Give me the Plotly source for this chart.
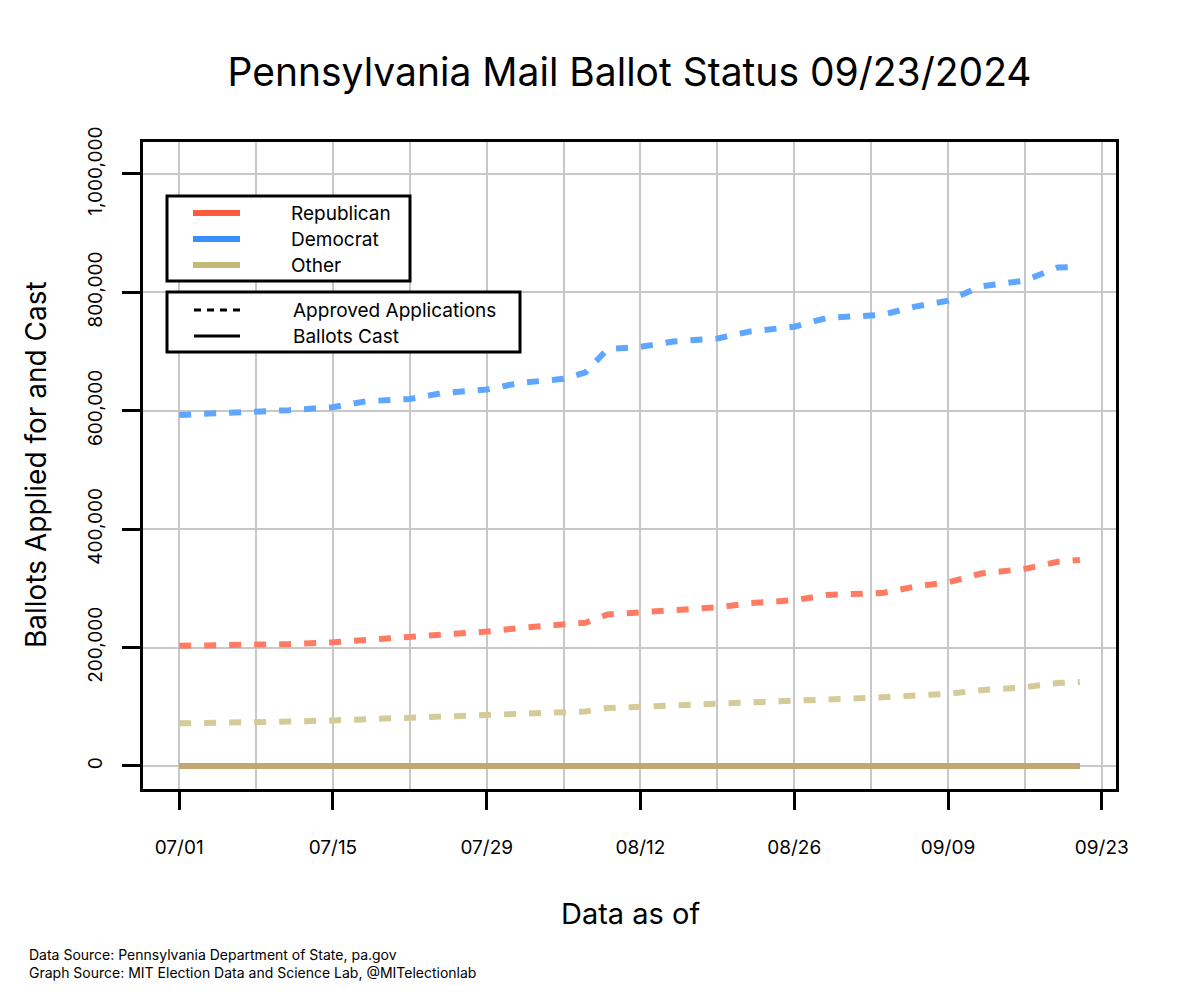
import plotly.graph_objects as go

# ---------------- data ----------------
dates = ["2024-07-01", "2024-07-04", "2024-07-08", "2024-07-11", "2024-07-15", "2024-07-18",
         "2024-07-22", "2024-07-25", "2024-07-29", "2024-08-01", "2024-08-05", "2024-08-07",
         "2024-08-09", "2024-08-12", "2024-08-15", "2024-08-19", "2024-08-22", "2024-08-26",
         "2024-08-29", "2024-09-03", "2024-09-06", "2024-09-09", "2024-09-12", "2024-09-16",
         "2024-09-19", "2024-09-21"]
dem_apps = [593000, 595000, 597000, 601000, 606000, 616000, 620000, 630000, 636000, 647000,
            654000, 665000, 704000, 708000, 717000, 722000, 734000, 742000, 757000, 762000,
            776000, 786000, 810000, 820000, 842000, 843000]
rep_apps = [203000, 203500, 204000, 206000, 209000, 213000, 216000, 222000, 227000, 233000,
            238000, 242000, 256000, 259000, 264000, 268000, 275000, 280000, 289000, 292000,
            303000, 310000, 325000, 333000, 345000, 348000]
oth_apps = [72000, 72500, 73000, 75000, 77000, 79000, 80000, 83000, 85000, 88000,
            90000, 92000, 98000, 100000, 102000, 104000, 106000, 109000, 113000, 116000,
            119000, 122000, 128000, 133000, 140000, 142000]
rep_cast = [0] * 26
dem_cast = [0] * 26
oth_cast = [0] * 26

x_tick_vals = ["2024-07-01", "2024-07-15", "2024-07-29", "2024-08-12", "2024-08-26",
               "2024-09-09", "2024-09-23"]
x_tick_text = ["07/01", "07/15", "07/29", "08/12", "08/26", "09/09", "09/23"]
y_tick_vals = [0, 200000, 400000, 600000, 800000, 1000000]
y_tick_text = ["0", "200,000", "400,000", "600,000", "800,000", "1,000,000"]

party_names = ["Republican", "Democrat", "Other"]
type_names = ["Approved Applications", "Ballots Cast"]

# ---------------- styles ----------------
FONT = "Inter"
C_REP, C_DEM, C_OTH = "#FF5A3C", "#3A8EFF", "#C2B97B"
C_REP_D, C_DEM_D, C_OTH_D = "#FF7B63", "#5EA6FF", "#D4CB98"
C_CAST_TOP = "rgb(196,166,115)"

W, H = 1190, 1000
L, R, T, B = 143, 1116, 142, 789

fig = go.Figure()

for y, c in [(oth_apps, C_OTH_D), (rep_apps, C_REP_D), (dem_apps, C_DEM_D)]:
    fig.add_trace(go.Scatter(x=dates, y=y, mode="lines",
                             line=dict(color=c, width=6, dash="12px,13px"),
                             showlegend=False, hoverinfo="skip"))
for y, c in [(dem_cast, C_DEM), (rep_cast, C_REP), (oth_cast, C_CAST_TOP)]:
    fig.add_trace(go.Scatter(x=dates, y=y, mode="lines",
                             line=dict(color=c, width=6),
                             showlegend=False, hoverinfo="skip"))


def px(xp):
    return (xp - L) / (R - L)


def py(yp):
    return (B - yp) / (B - T)


shapes = []
annos = []
LEG_FONT = dict(family=FONT, size=19, color="black")
# legend box 1 (parties)
shapes.append(dict(type="rect", xref="paper", yref="paper", x0=px(167), x1=px(410),
                   y0=py(281), y1=py(196), line=dict(color="black", width=3),
                   fillcolor="white", layer="above"))
for i, (name, col) in enumerate(zip(party_names, [C_REP, C_DEM, C_OTH])):
    yy = 213 + 26 * i
    shapes.append(dict(type="line", xref="paper", yref="paper", x0=px(193), x1=px(240),
                       y0=py(yy), y1=py(yy), line=dict(color=col, width=6), layer="above"))
    annos.append(dict(text=name, xref="paper", yref="paper", x=px(289), y=py(yy),
                      xanchor="left", yanchor="middle", showarrow=False, font=LEG_FONT))
# legend box 2 (types)
shapes.append(dict(type="rect", xref="paper", yref="paper", x0=px(167), x1=px(520),
                   y0=py(352), y1=py(292), line=dict(color="black", width=3),
                   fillcolor="white", layer="above"))
for i, (name, dash) in enumerate(zip(type_names, ["7px,6px", "solid"])):
    yy = 310 + 26 * i
    shapes.append(dict(type="line", xref="paper", yref="paper", x0=px(194), x1=px(240),
                       y0=py(yy), y1=py(yy), line=dict(color="black", width=3, dash=dash),
                       layer="above"))
    annos.append(dict(text=name, xref="paper", yref="paper", x=px(291), y=py(yy),
                      xanchor="left", yanchor="middle", showarrow=False, font=LEG_FONT))

# axis titles
annos.append(dict(text="Ballots Applied for and Cast", xref="paper", yref="paper",
                  x=px(36), y=py(465), textangle=-90, showarrow=False,
                  xanchor="center", yanchor="middle",
                  font=dict(family=FONT, size=28, color="black")))
annos.append(dict(text="Data as of", xref="paper", yref="paper",
                  x=px(630), y=py(913), showarrow=False,
                  xanchor="center", yanchor="middle",
                  font=dict(family=FONT, size=29, color="black")))
# footer
annos.append(dict(text="Data Source: Pennsylvania Department of State, pa.gov<br>"
                       "Graph Source: MIT Election Data and Science Lab, @MITelectionlab",
                  xref="paper", yref="paper", x=px(27), y=py(944), showarrow=False,
                  xanchor="left", yanchor="top", align="left",
                  font=dict(family=FONT, size=14, color="black")))

fig.update_layout(
    width=W, height=H,
    margin=dict(l=L, r=W - R, t=T, b=H - B, autoexpand=False),
    paper_bgcolor="white", plot_bgcolor="white",
    title=dict(text="Pennsylvania Mail Ballot Status 09/23/2024", x=(L + R) / 2 / W,
               xanchor="center", y=1 - 72 / H, yanchor="middle", yref="container",
               font=dict(family=FONT, size=39, color="black")),
    shapes=shapes, annotations=annos, showlegend=False,
)

fig.update_xaxes(
    type="date", range=["2024-06-27 17:00", "2024-09-24 07:00"],
    tickvals=x_tick_vals, ticktext=x_tick_text,
    ticks="outside", ticklen=18, tickwidth=3, tickcolor="black",
    ticklabelstandoff=21,
    tickfont=dict(family=FONT, size=19, color="black"),
    showgrid=True, gridcolor="#C8C8C8", gridwidth=1.5,
    minor=dict(dtick=7 * 86400000, tick0="2024-07-01", showgrid=True,
               gridcolor="#C8C8C8", gridwidth=1.5, ticks=""),
    showline=True, linecolor="black", linewidth=3, mirror=True,
    zeroline=False,
)
fig.update_yaxes(
    range=[-38900, 1054000],
    tickvals=y_tick_vals, ticktext=y_tick_text, tickangle=-90,
    ticks="outside", ticklen=18, tickwidth=3, tickcolor="black",
    ticklabelstandoff=12,
    tickfont=dict(family=FONT, size=19, color="black"),
    showgrid=True, gridcolor="#C8C8C8", gridwidth=1.5,
    showline=True, linecolor="black", linewidth=3, mirror=True,
    zeroline=False,
)

fig.write_html("out.html", config={"displayModeBar": False},
               post_script="document.body.style.margin='0px';")
